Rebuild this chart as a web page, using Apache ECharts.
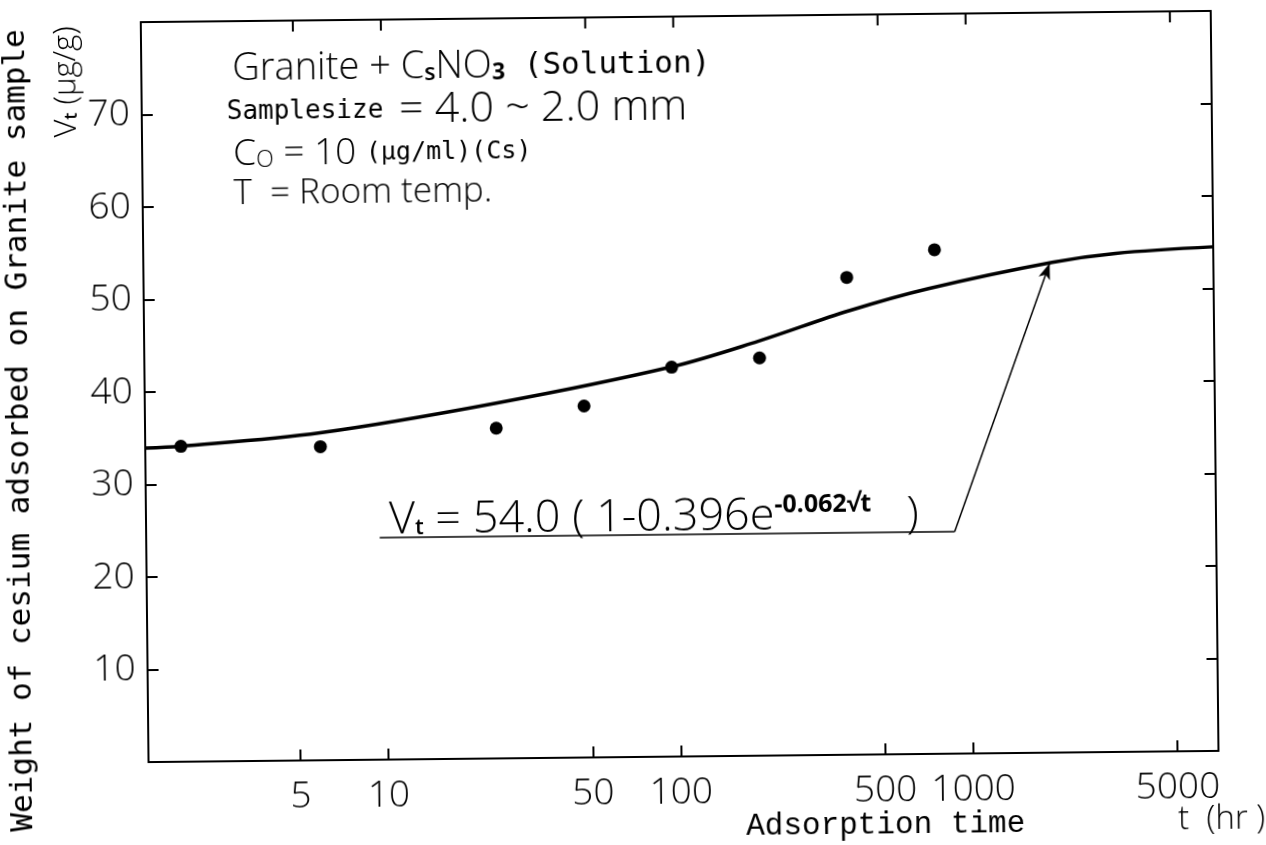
<!DOCTYPE html>
<html>
<head>
<meta charset="utf-8">
<title>Cs adsorption on granite</title>
<script src="https://cdn.jsdelivr.net/npm/echarts@6/dist/echarts.min.js"></script>
<style>
    html, body { margin: 0; padding: 0; background: #fff; }
    /* the scanned figure is slightly tilted */
    #chart { width: 1266px; height: 845px; transform: rotate(-0.6deg); }
</style>
</head>
<body>
<div id="chart"></div>
<script type="text/javascript">
    // measured points: adsorption time (hr) / Vt (ug/g)
    var times = [2, 6, 24, 48, 96, 192, 384, 768];
    var weights = [34.1, 33.9, 35.7, 38.0, 42.1, 43.0, 51.6, 54.5];

    // fitted curve
    var curveTimes = [1.51, 2, 6, 24, 95, 190, 390, 730, 1940, 3200, 6900];
    var curveWeights = [33.95, 34.1, 35.4, 38.4, 42.1, 44.8, 48.0, 50.3, 53.0, 53.9, 54.5];

    // axis ticks
    var xTicks = [5, 10, 50, 100, 500, 1000, 5000];
    var yTicks = [10, 20, 30, 40, 50, 60, 70];
    var tMin = 1.51, tMax = 6900;
    var vMax = 80;

    // formula underline and arrow to the curve (t, Vt)
    var underlineStart = [9.5, 24.0];
    var underlineEnd = [880, 24.0];
    var arrowTip = [1900, 52.9];

    function lg(t) { return Math.log10(t); }

    var myChart = echarts.init(document.getElementById('chart'));

    var sansFont = "'Open Sans', 'DejaVu Sans', sans-serif";
    var monoFont = "'DejaVu Sans Mono', monospace";
    var typeFont = "'Liberation Mono', 'Courier New', monospace";

    var frameLine = { color: '#000', width: 2 };
    var tickStyle = { color: '#000', width: 2 };

    // short ticks hanging from the top frame, same places as the bottom ones
    var topTickData = [];
    xTicks.forEach(function (t) {
        topTickData.push([lg(t), vMax], [lg(t), vMax - 1.2], [lg(t), '-']);
    });

    var option = {
        animation: false,
        backgroundColor: '#fff',
        grid: { left: 145, right: 51, top: 17, bottom: 88 },
        xAxis: [{
            type: 'value',
            position: 'bottom',
            min: lg(tMin),
            max: lg(tMax),
            axisLine: { onZero: false, lineStyle: frameLine },
            axisTick: { show: true, inside: true, length: 11, customValues: xTicks.map(lg), lineStyle: tickStyle },
            axisLabel: {
                customValues: xTicks.map(lg),
                formatter: function (v) { return String(Math.round(Math.pow(10, v))); },
                margin: 18,
                color: '#000',
                fontFamily: sansFont,
                fontWeight: 300,
                fontSize: 37
            },
            splitLine: { show: false }
        }, {
            type: 'value',
            position: 'top',
            min: lg(tMin),
            max: lg(tMax),
            axisLine: { show: true, onZero: false, lineStyle: frameLine },
            axisTick: { show: false },
            axisLabel: { show: false },
            splitLine: { show: false }
        }],
        yAxis: [{
            type: 'value',
            position: 'left',
            min: 0,
            max: vMax,
            interval: 10,
            axisLine: { onZero: false, lineStyle: frameLine },
            axisTick: { inside: true, length: 11, customValues: yTicks, lineStyle: tickStyle },
            axisLabel: {
                customValues: yTicks,
                margin: 12,
                color: '#000',
                fontFamily: sansFont,
                fontWeight: 300,
                fontSize: 37
            },
            splitLine: { show: false }
        }, {
            type: 'value',
            position: 'right',
            min: 0,
            max: vMax,
            interval: 10,
            axisLine: { onZero: false, lineStyle: frameLine },
            axisTick: { inside: true, length: 11, customValues: yTicks, lineStyle: tickStyle },
            axisLabel: { show: false },
            splitLine: { show: false }
        }],
        series: [{
            name: 'fit',
            type: 'line',
            smooth: 0.35,
            showSymbol: false,
            lineStyle: { color: '#000', width: 3.5 },
            data: curveTimes.map(function (t, i) { return [lg(t), curveWeights[i]]; }),
            markLine: {
                silent: true,
                label: { show: false },
                lineStyle: { color: '#000', width: 1.5, type: 'solid' },
                symbolSize: [9, 16],
                data: [
                    [{ coord: [lg(underlineStart[0]), underlineStart[1]], symbol: 'none' },
                     { coord: [lg(underlineEnd[0]), underlineEnd[1]], symbol: 'none' }],
                    [{ coord: [lg(underlineEnd[0]), underlineEnd[1]], symbol: 'none' },
                     { coord: [lg(arrowTip[0]), arrowTip[1]], symbol: 'arrow' }]
                ]
            }
        }, {
            name: 'topTicks',
            type: 'line',
            silent: true,
            clip: false,
            showSymbol: false,
            connectNulls: false,
            lineStyle: tickStyle,
            data: topTickData
        }, {
            name: 'measured',
            type: 'scatter',
            symbol: 'circle',
            symbolSize: 13,
            itemStyle: { color: '#000', opacity: 1 },
            data: times.map(function (t, i) { return [lg(t), weights[i]]; })
        }],
        graphic: [{
            type: 'text', x: 236, y: 65,
            style: {
                text: '{a|Granite + C}{s|s}{a|NO}{n|3}{m| (Solution)}',
                verticalAlign: 'middle',
                rich: {
                    a: { fontFamily: sansFont, fontWeight: 300, fontSize: 38, fill: '#000' },
                    s: { fontFamily: sansFont, fontWeight: 600, fontSize: 23, fill: '#000', padding: [12, 0, 0, 0] },
                    n: { fontFamily: sansFont, fontWeight: 700, fontSize: 23, fill: '#000', padding: [12, 0, 0, 0] },
                    m: { fontFamily: monoFont, fontSize: 31, fill: '#000' }
                }
            }
        }, {
            type: 'text', x: 230, y: 108,
            style: {
                text: '{m|Samplesize }{a|= 4.0 ~ 2.0 mm}',
                verticalAlign: 'middle',
                rich: {
                    m: { fontFamily: monoFont, fontSize: 26, fill: '#000' },
                    a: { fontFamily: sansFont, fontWeight: 300, fontSize: 43, fill: '#000' }
                }
            }
        }, {
            type: 'text', x: 236, y: 150,
            style: {
                text: '{a|C}{s|O}{a| = 10 }{m|(μg/ml)(Cs)}',
                verticalAlign: 'middle',
                rich: {
                    a: { fontFamily: sansFont, fontWeight: 300, fontSize: 37, fill: '#000' },
                    s: { fontFamily: sansFont, fontWeight: 300, fontSize: 23, fill: '#000', padding: [12, 0, 0, 0] },
                    m: { fontFamily: monoFont, fontSize: 25, fill: '#000' }
                }
            }
        }, {
            type: 'text', x: 236, y: 190,
            style: {
                text: 'T  = Room temp.', verticalAlign: 'middle',
                fontFamily: sansFont, fontWeight: 300, fontSize: 35, fill: '#000'
            }
        }, {
            type: 'text', x: 388, y: 518,
            style: {
                text: '{a|V}{s|t}{a| = 54.0 ( 1-0.396e}{p|-0.062√t}{a|   )}',
                verticalAlign: 'middle',
                rich: {
                    a: { fontFamily: sansFont, fontWeight: 300, fontSize: 45, fill: '#000' },
                    s: { fontFamily: sansFont, fontWeight: 600, fontSize: 22, fill: '#000', padding: [16, 0, 0, 0] },
                    p: { fontFamily: sansFont, fontWeight: 700, fontSize: 25, fill: '#000', padding: [0, 0, 22, 0] }
                }
            }
        }, {
            type: 'text', x: 20, y: 424, rotation: Math.PI / 2,
            style: {
                text: 'Weight of cesium adsorbed on Granite sample',
                fontFamily: monoFont, fontSize: 31, fill: '#000',
                align: 'center', verticalAlign: 'middle'
            }
        }, {
            type: 'text', x: 70, y: 76, rotation: Math.PI / 2,
            style: {
                text: '{a|V}{s|t}{a| (μg/g)}',
                align: 'center', verticalAlign: 'middle',
                rich: {
                    a: { fontFamily: sansFont, fontWeight: 300, fontSize: 31, fill: '#000' },
                    s: { fontFamily: sansFont, fontWeight: 600, fontSize: 18, fill: '#000', padding: [10, 0, 0, 0] }
                }
            }
        }, {
            type: 'text', x: 742, y: 828,
            style: {
                text: 'Adsorption time', verticalAlign: 'middle',
                fontFamily: typeFont, fontSize: 31, fill: '#000'
            }
        }, {
            type: 'text', x: 1174, y: 826,
            style: {
                text: 't  (hr )', verticalAlign: 'middle',
                fontFamily: sansFont, fontWeight: 300, fontSize: 33, fill: '#000'
            }
        }]
    };

    myChart.setOption(option);
</script>
</body>
</html>
